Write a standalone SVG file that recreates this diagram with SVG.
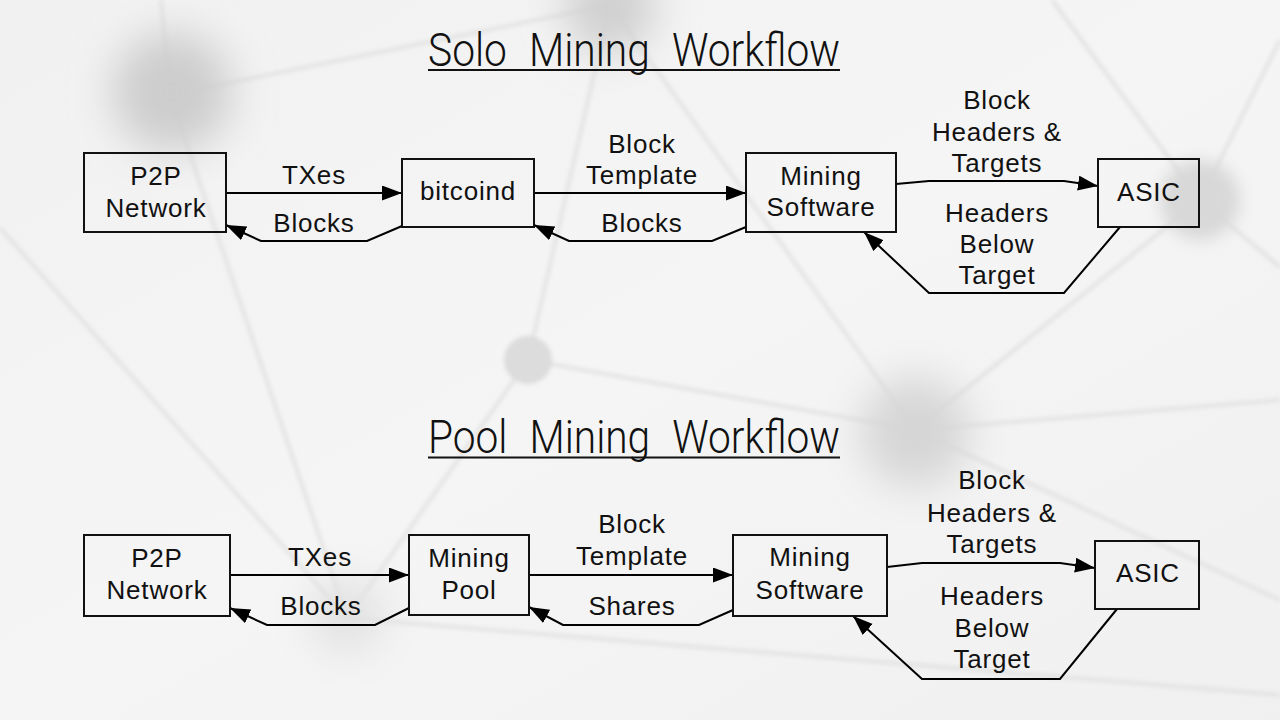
<svg xmlns="http://www.w3.org/2000/svg" width="1280" height="720" viewBox="0 0 1280 720">
<defs>
<filter id="blurBig" x="-100%" y="-100%" width="300%" height="300%"><feGaussianBlur stdDeviation="20"/></filter>
<filter id="blurMid" x="-100%" y="-100%" width="300%" height="300%"><feGaussianBlur stdDeviation="8"/></filter>
<filter id="blurSm" x="-10%" y="-10%" width="120%" height="120%"><feGaussianBlur stdDeviation="2"/></filter>
<linearGradient id="bg" x1="0" y1="0" x2="1" y2="1">
<stop offset="0" stop-color="#f1f1f1"/><stop offset="0.5" stop-color="#f5f5f5"/><stop offset="1" stop-color="#f0f0f0"/>
</linearGradient>
<marker id="arr" markerUnits="userSpaceOnUse" markerWidth="22" markerHeight="17" refX="20" refY="7.5" orient="auto">
<path d="M0,0 L20,7.5 L0,15 z" fill="#000"/>
</marker>
<style>
.box{fill:none;stroke:#111;stroke-width:2}
.t{font-family:"Liberation Sans",Arial,sans-serif;font-size:26px;letter-spacing:0.8px;fill:#111;text-anchor:middle}
.title{font-family:Roboto,"Liberation Sans",sans-serif;font-weight:300;font-size:47px;fill:#111;word-spacing:14px}
.ul{stroke:#111;stroke-width:2}
.c{fill:none;stroke:#000;stroke-width:2;marker-end:url(#arr)}
.bgl{stroke:#dedede;stroke-width:3;fill:none}
</style>
</defs>
<rect width="1280" height="720" fill="url(#bg)"/>
<g id="background">
<g filter="url(#blurSm)">
<path class="bgl" d="M161,0 L170,95"/>
<path class="bgl" d="M170,95 L610,5" stroke-width="5"/>
<path class="bgl" d="M170,95 L347,618"/>
<path class="bgl" d="M0,228 L347,618" stroke="#e4e4e4"/>
<path class="bgl" d="M528,360 L610,5" stroke-width="2"/>
<path class="bgl" d="M528,360 L915,430"/>
<path class="bgl" d="M528,360 L347,618" stroke-width="2"/>
<path class="bgl" d="M347,618 L1280,695"/>
<path class="bgl" d="M610,5 L915,430"/>
<path class="bgl" d="M1052,0 L1200,200"/>
<path class="bgl" d="M1280,40 L1200,200"/>
<path class="bgl" d="M1200,200 L1280,267" stroke-width="2"/>
<path class="bgl" d="M1200,200 L915,430"/>
<path class="bgl" d="M915,430 L1280,400"/>
<path class="bgl" d="M915,430 L1280,600"/>
</g>
<circle cx="172" cy="92" r="60" fill="#cdcdcd" filter="url(#blurBig)"/>
<circle cx="610" cy="8" r="46" fill="#d0d0d0" filter="url(#blurBig)"/>
<circle cx="528" cy="360" r="24" fill="#dcdcdc" filter="url(#blurSm)"/>
<circle cx="915" cy="432" r="55" fill="#d6d6d6" filter="url(#blurBig)"/>
<circle cx="1200" cy="200" r="40" fill="#d8d8d8" filter="url(#blurMid)"/>
<circle cx="347" cy="615" r="38" fill="#e2e2e2" filter="url(#blurBig)"/>
</g>
<g id="titles">
<text class="title" x="428" y="66" textLength="412" lengthAdjust="spacingAndGlyphs">Solo Mining Workflow</text>
<line class="ul" x1="428" y1="70" x2="840" y2="70"/>
<text class="title" x="428" y="453" textLength="412" lengthAdjust="spacingAndGlyphs">Pool Mining Workflow</text>
<line class="ul" x1="428" y1="457.5" x2="840" y2="457.5"/>
</g>
<g id="connectors">
<path class="c" d="M226,193 H402"/>
<path class="c" d="M402,226 L367,241 L261,241 L226,225"/>
<path class="c" d="M534,193 H746"/>
<path class="c" d="M746,227 L712,241 L569,241 L534,225"/>
<path class="c" d="M896,184 L929,181 L1064,181 L1098,186"/>
<path class="c" d="M1120,227 L1064,293 L929,293 L864,232"/>
<path class="c" d="M230,575 H409"/>
<path class="c" d="M409,608 L375,625 L267,625 L230,608"/>
<path class="c" d="M529,575 H733"/>
<path class="c" d="M733,610 L699,625 L563,625 L529,607"/>
<path class="c" d="M887,567 L922,563 L1060,563 L1095,568"/>
<path class="c" d="M1117,609 L1060,679 L922,679 L853,616"/>
</g>
<g id="edge-labels">
<text class="t" x="314" y="184">TXes</text>
<text class="t" x="314" y="232">Blocks</text>
<text class="t" x="642" y="153">Block</text>
<text class="t" x="642" y="184">Template</text>
<text class="t" x="642" y="232">Blocks</text>
<text class="t" x="997" y="109">Block</text>
<text class="t" x="997" y="141">Headers &amp;</text>
<text class="t" x="997" y="172">Targets</text>
<text class="t" x="997" y="222">Headers</text>
<text class="t" x="997" y="253">Below</text>
<text class="t" x="997" y="284">Target</text>
<text class="t" x="320" y="566">TXes</text>
<text class="t" x="321" y="615">Blocks</text>
<text class="t" x="632" y="533">Block</text>
<text class="t" x="632" y="565">Template</text>
<text class="t" x="632" y="615">Shares</text>
<text class="t" x="992" y="489">Block</text>
<text class="t" x="992" y="522">Headers &amp;</text>
<text class="t" x="992" y="553">Targets</text>
<text class="t" x="992" y="605">Headers</text>
<text class="t" x="992" y="637">Below</text>
<text class="t" x="992" y="668">Target</text>
</g>
<g id="solo-p2p"><rect class="box" x="84" y="153" width="142" height="79"/><text class="t" x="156" y="185">P2P</text><text class="t" x="156" y="217">Network</text></g>
<g id="solo-bitcoind"><rect class="box" x="402" y="159" width="132" height="68"/><text class="t" x="468" y="200">bitcoind</text></g>
<g id="solo-mining-software"><rect class="box" x="746" y="153" width="150" height="79"/><text class="t" x="821" y="185">Mining</text><text class="t" x="821" y="216">Software</text></g>
<g id="solo-asic"><rect class="box" x="1098" y="159" width="101" height="68"/><text class="t" x="1149" y="201">ASIC</text></g>
<g id="pool-p2p"><rect class="box" x="84" y="535" width="146" height="81"/><text class="t" x="157" y="567">P2P</text><text class="t" x="157" y="599">Network</text></g>
<g id="pool-mining-pool"><rect class="box" x="409" y="535" width="120" height="80"/><text class="t" x="469" y="567">Mining</text><text class="t" x="469" y="599">Pool</text></g>
<g id="pool-mining-software"><rect class="box" x="733" y="535" width="154" height="81"/><text class="t" x="810" y="566">Mining</text><text class="t" x="810" y="599">Software</text></g>
<g id="pool-asic"><rect class="box" x="1095" y="541" width="104" height="68"/><text class="t" x="1148" y="582">ASIC</text></g>
</svg>
